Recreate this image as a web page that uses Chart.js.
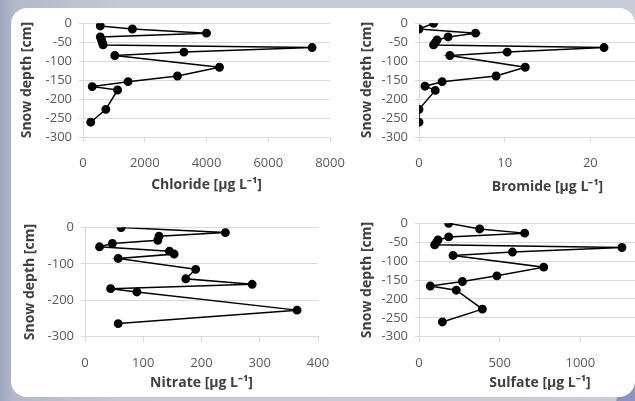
<!DOCTYPE html>
<html>
<head>
<meta charset="utf-8">
<script src="https://cdn.jsdelivr.net/npm/chart.js@4.4.0/dist/chart.umd.min.js"></script>
<style>
  html, body { margin: 0; padding: 0; }
  body {
    width: 635px; height: 401px; overflow: hidden; position: relative;
    background: linear-gradient(90deg, #9ea6bd 0px, #b3b9cb 14px, #c5c8d5 120px, #cacdd8 100%);
  }
  #corner { position: absolute; left: 616px; top: 384px; width: 40px; height: 40px; background: #8e92c3; border-radius: 50%; }
  #panel { position: absolute; left: 11px; top: 8px; width: 624px; height: 389px; background: #fff; border-radius: 16px; overflow: hidden; }
  #panel canvas { position: absolute; }
</style>
</head>
<body>
<div id="corner"></div>
<div id="panel">
  <canvas id="chartone" width="350" height="187" style="left:3px;top:0px"></canvas>
  <canvas id="charttwo" width="356" height="187" style="left:343px;top:0px"></canvas>
  <canvas id="chartthree" width="335" height="187" style="left:6px;top:200px"></canvas>
  <canvas id="chartfour" width="341" height="187" style="left:343px;top:200px"></canvas>
</div>
<script>
Chart.defaults.font.family = "'Open Sans', sans-serif";

// values, depth in cm
const chlorideDepth = [-7, -15, -26, -36, -44, -51, -57, -64, -76, -85, -116, -139, -154, -167, -176, -227, -261];
const chloride = [560, 1600, 4000, 560, 600, 630, 650, 7420, 3270, 1030, 4420, 3060, 1460, 300, 1120, 740, 250];

const depth = [0, -15, -26, -36, -44, -51, -57, -64, -76, -85, -116, -139, -154, -166, -177, -227, -261];
const bromide = [1.7, 0, 6.6, 3.4, 2.1, 1.9, 1.7, 21.6, 10.3, 3.6, 12.4, 9.0, 2.7, 0.7, 1.9, 0, 0];
const sulfate = [184, 376, 655, 184, 118, 107, 97, 1258, 579, 211, 773, 483, 269, 70, 231, 393, 145];

const nitrateDepth = [0, -14, -24, -35, -44, -53, -65, -73, -85, -115, -141, -156, -168, -177, -227, -264];
const nitrate = [62, 241, 127, 125, 47, 25, 145, 153, 57, 190, 173, 287, 44, 89, 364, 57];

function makeChart(id, values, depths, xTitle, xMax, xStep, yStep, lay) {
  new Chart(document.getElementById(id), {
    type: 'scatter',
    data: {
      datasets: [{
        data: values.map((v, i) => ({ x: v, y: depths[i] })),
        showLine: true,
        borderColor: '#000',
        borderWidth: 1.5,
        pointRadius: 3.7,
        pointBackgroundColor: '#000',
        pointBorderColor: '#000'
      }]
    },
    options: {
      responsive: false,
      animation: false,
      layout: { padding: { top: lay.top, right: 34, left: 0, bottom: 0 } },
      plugins: {
        legend: { display: false },
        tooltip: { enabled: false }
      },
      scales: {
        x: {
          min: 0,
          max: xMax,
          ticks: { stepSize: xStep, color: '#595959', padding: lay.tickPad, font: { size: 13 }, callback: v => v },
          grid: { drawOnChartArea: false, tickLength: 5, color: '#d9d9d9' },
          border: { color: '#d9d9d9' },
          title: { display: true, text: xTitle, color: '#404040', font: { size: 14, weight: 'bold' }, padding: { top: 0, bottom: lay.titlePad } },
          afterFit: s => { s.height = lay.xh; }
        },
        y: {
          min: -300,
          max: 0,
          ticks: { stepSize: yStep, color: '#595959', padding: 7, font: { size: 13 }, callback: v => v },
          grid: { color: '#d9d9d9', tickLength: 4 },
          border: { color: '#d9d9d9' },
          title: { display: true, text: 'Snow depth [cm]', color: '#404040', font: { size: 14, weight: 'bold' }, padding: { top: 5, bottom: 0 } },
          afterFit: s => { s.width = lay.yw; }
        }
      }
    }
  });
}

makeChart('chartone', chloride, chlorideDepth, 'Chloride [µg L⁻¹]', 8000, 2000, 50,
  { top: 15.3, yw: 69, xh: 58, tickPad: 13, titlePad: 2 });
makeChart('charttwo', bromide, depth, 'Bromide [µg L⁻¹]', 30, 10, 50,
  { top: 15.3, yw: 65, xh: 58, tickPad: 13, titlePad: 0 });
makeChart('chartthree', nitrate, nitrateDepth, 'Nitrate [µg L⁻¹]', 400, 100, 100,
  { top: 19.5, yw: 68, xh: 58.3, tickPad: 13.5, titlePad: 3.6 });
makeChart('chartfour', sulfate, depth, 'Sulfate [µg L⁻¹]', 1500, 500, 50,
  { top: 15.3, yw: 65, xh: 58.3, tickPad: 13.5, titlePad: 3.6 });
</script>
</body>
</html>
